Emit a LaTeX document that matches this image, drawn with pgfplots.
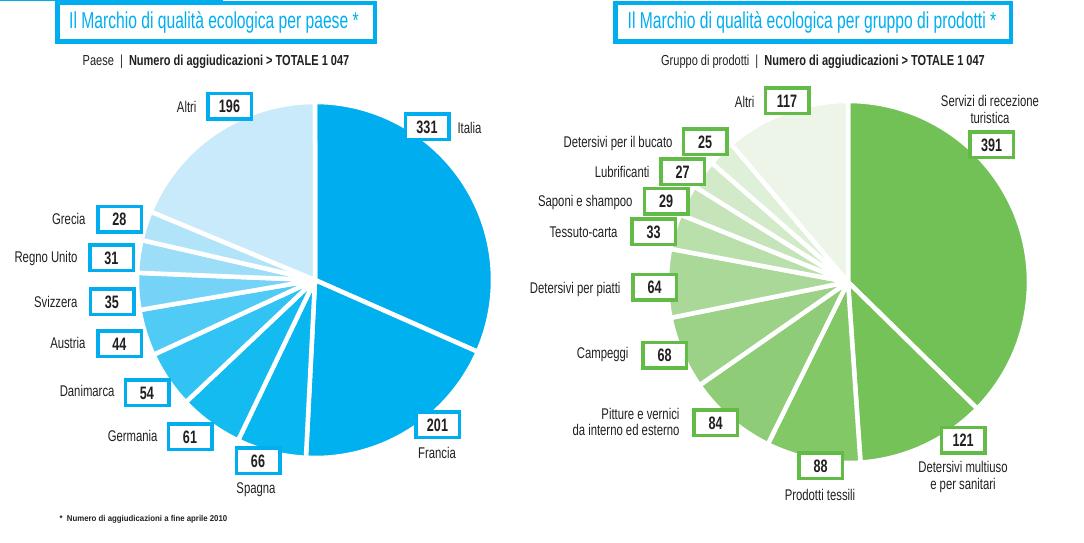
\documentclass[border=0pt]{standalone}
\usepackage{fontspec}
\setmainfont{Liberation Sans}[FakeStretch=0.76]
\newfontfamily\footfont{Liberation Sans}[FakeStretch=0.92]
\newfontfamily\labfam{Liberation Sans}[FakeStretch=0.73]
\newfontfamily\numfam{Liberation Sans}[FakeStretch=0.70]
\newfontfamily\titfam{Liberation Sans}[FakeStretch=0.68]
\usepackage{pgfplots}
\pgfplotsset{compat=1.18}
\definecolor{ecocyan}{HTML}{00AEEF}
\definecolor{ecogreen}{HTML}{62BB46}
\definecolor{txt}{HTML}{231F20}
% left pie colours
\definecolor{L1}{HTML}{00AEEF}\definecolor{L2}{HTML}{00B1EF}\definecolor{L3}{HTML}{08B6F0}
\definecolor{L4}{HTML}{14BBF1}\definecolor{L5}{HTML}{30C3F3}\definecolor{L6}{HTML}{50CBF5}
\definecolor{L7}{HTML}{74D3F6}\definecolor{L8}{HTML}{9CDDF8}\definecolor{L9}{HTML}{B2E4F9}
\definecolor{L10}{HTML}{C9EAFA}
% right pie colours
\definecolor{R1}{HTML}{72C156}\definecolor{R2}{HTML}{75C259}\definecolor{R3}{HTML}{82C866}
\definecolor{R4}{HTML}{8FCC77}\definecolor{R5}{HTML}{9CD287}\definecolor{R6}{HTML}{A9D898}
\definecolor{R7}{HTML}{B9DFAA}\definecolor{R8}{HTML}{C5E4B9}\definecolor{R9}{HTML}{D2EAC8}
\definecolor{R10}{HTML}{DFF0D8}\definecolor{R11}{HTML}{ECF5E8}
\newcommand{\numfont}{\numfam\fontsize{18}{19}\selectfont\bfseries\color{txt}}
\newcommand{\labfont}{\labfam\fontsize{15.5}{16.5}\selectfont\color{txt}}
% slice: #1 cx, #2 cy, #3 radius, #4 cumulative start, #5 cumulative end, #6 colour  (total 1047)
\newcommand{\slice}[6]{%
  \addplot[fill=#6, draw=white, line width=4.5pt, line join=round, domain=#4:#5, samples=80, variable=\t]
    ({#1+#3*sin(\t*360/1047)}, {#2+#3*cos(\t*360/1047)}) -- (axis cs:#1,#2) -- cycle;}
\tikzset{numbox/.style={draw=#1, line width=3.5pt, fill=white, minimum width=43.5pt,
    minimum height=25.5pt, inner sep=0pt, font=\numfont}}
\begin{document}
\begin{tikzpicture}
\begin{axis}[name=ax, width=1084pt, height=543pt, scale only axis,
  xmin=0, xmax=1084, ymin=0, ymax=543, hide axis, clip=false]
% ---------- left pie: Italia 331, Francia 201, Spagna 66, Germania 61, Danimarca 54,
% Austria 44, Svizzera 35, Regno Unito 31, Grecia 28, Altri 196
\slice{315}{263}{178}{0}{331}{L1}
\slice{315}{263}{178}{331}{532}{L2}
\slice{315}{263}{178}{532}{598}{L3}
\slice{315}{263}{178}{598}{659}{L4}
\slice{315}{263}{178}{659}{713}{L5}
\slice{315}{263}{178}{713}{757}{L6}
\slice{315}{263}{178}{757}{792}{L7}
\slice{315}{263}{178}{792}{823}{L8}
\slice{315}{263}{178}{823}{851}{L9}
\slice{315}{263}{178}{851}{1047}{L10}
% ---------- right pie: Servizi 391, Multiuso 121, Tessili 88, Pitture 84, Campeggi 68,
% Piatti 64, Tessuto-carta 33, Saponi 29, Lubrificanti 27, Bucato 25, Altri 117
\slice{848}{261}{181}{0}{391}{R1}
\slice{848}{261}{181}{391}{512}{R2}
\slice{848}{261}{181}{512}{600}{R3}
\slice{848}{261}{181}{600}{684}{R4}
\slice{848}{261}{181}{684}{752}{R5}
\slice{848}{261}{181}{752}{816}{R6}
\slice{848}{261}{181}{816}{849}{R7}
\slice{848}{261}{181}{849}{878}{R8}
\slice{848}{261}{181}{878}{905}{R9}
\slice{848}{261}{181}{905}{930}{R10}
\slice{848}{261}{181}{930}{1047}{R11}
% ---------- titles
\draw[ecocyan, line width=1.5pt] (axis cs:0,542.3) -- (axis cs:223,542.3);
\draw[ecocyan, line width=4.5pt] (axis cs:57.25,539.75) rectangle (axis cs:374.75,501.25);
\draw[ecocyan, line width=4.5pt] (axis cs:615.25,539.75) rectangle (axis cs:1010.75,501.25);
\node[font=\titfam\fontsize{23}{25}\selectfont, text=ecocyan] at (axis cs:214,521) {Il Marchio di qualità ecologica per paese *};
\node[font=\titfam\fontsize{23}{25}\selectfont, text=ecocyan] at (axis cs:812,521) {Il Marchio di qualità ecologica per gruppo di prodotti *};
\node[font=\fontsize{14.5}{16}\selectfont, text=txt] at (axis cs:216,481) {Paese\ \ |\ \ \textbf{Numero di aggiudicazioni > TOTALE 1 047}};
\node[font=\fontsize{14.5}{16}\selectfont, text=txt] at (axis cs:823,481) {Gruppo di prodotti\ \ |\ \ \textbf{Numero di aggiudicazioni > TOTALE 1 047}};
% ---------- left labels
\node[numbox=ecocyan] at (axis cs:229.5,436.5) {196};
\node[anchor=east, font=\labfont] at (axis cs:200,436.5) {Altri};
\node[numbox=ecocyan] at (axis cs:427,416) {331};
\node[anchor=west, font=\labfont] at (axis cs:454,415) {Italia};
\node[numbox=ecocyan] at (axis cs:437.5,118) {201};
\node[font=\labfont] at (axis cs:437,90) {Francia};
\node[numbox=ecocyan] at (axis cs:258,82) {66};
\node[font=\labfont] at (axis cs:256,53) {Spagna};
\node[numbox=ecocyan] at (axis cs:190,106) {61};
\node[anchor=east, font=\labfont] at (axis cs:161,107) {Germania};
\node[numbox=ecocyan] at (axis cs:147,150) {54};
\node[anchor=east, font=\labfont] at (axis cs:118,152) {Danimarca};
\node[numbox=ecocyan] at (axis cs:119.5,199) {44};
\node[anchor=east, font=\labfont] at (axis cs:89,200) {Austria};
\node[numbox=ecocyan] at (axis cs:112,241) {35};
\node[anchor=east, font=\labfont] at (axis cs:81,241) {Svizzera};
\node[numbox=ecocyan] at (axis cs:111.5,285) {31};
\node[anchor=east, font=\labfont] at (axis cs:81,285) {Regno Unito};
\node[numbox=ecocyan] at (axis cs:119.5,323.5) {28};
\node[anchor=east, font=\labfont] at (axis cs:89,324) {Grecia};
% ---------- right labels
\node[numbox=ecogreen] at (axis cs:787,442) {117};
\node[anchor=east, font=\labfont] at (axis cs:758,441) {Altri};
\node[numbox=ecogreen] at (axis cs:991.5,398) {391};
\node[align=center, font=\labfont] at (axis cs:990,433.5) {Servizi di recezione\\turistica};
\node[numbox=ecogreen] at (axis cs:963,102.5) {121};
\node[align=center, font=\labfont] at (axis cs:963,66) {Detersivi multiuso\\e per sanitari};
\node[numbox=ecogreen] at (axis cs:820.5,77) {88};
\node[font=\labfont] at (axis cs:820,48) {Prodotti tessili};
\node[numbox=ecogreen] at (axis cs:715.5,120) {84};
\node[anchor=east, align=right, font=\labfont] at (axis cs:683,121) {Pitture e vernici\\da interno ed esterno};
\node[numbox=ecogreen] at (axis cs:664.5,187.5) {68};
\node[anchor=east, font=\labfont] at (axis cs:632,189) {Campeggi};
\node[numbox=ecogreen] at (axis cs:654.5,255.5) {64};
\node[anchor=east, font=\labfont] at (axis cs:624,254) {Detersivi per piatti};
\node[numbox=ecogreen] at (axis cs:653.5,311) {33};
\node[anchor=east, font=\labfont] at (axis cs:621,311) {Tessuto-carta};
\node[numbox=ecogreen] at (axis cs:666,341.5) {29};
\node[anchor=east, font=\labfont] at (axis cs:636,341) {Saponi e shampoo};
\node[numbox=ecogreen] at (axis cs:682.5,371) {27};
\node[anchor=east, font=\labfont] at (axis cs:653,371) {Lubrificanti};
\node[numbox=ecogreen] at (axis cs:705,401) {25};
\node[anchor=east, font=\labfont] at (axis cs:676,400) {Detersivi per il bucato};
% ---------- footnote
\node[anchor=west, font=\footfont\fontsize{8.5}{9}\selectfont\bfseries, text=txt] at (axis cs:56,24) {*\ \ Numero di aggiudicazioni a fine aprile 2010};
\end{axis}
\pgfresetboundingbox
\useasboundingbox (ax.south west) rectangle (ax.north east);
\end{tikzpicture}
\end{document}
